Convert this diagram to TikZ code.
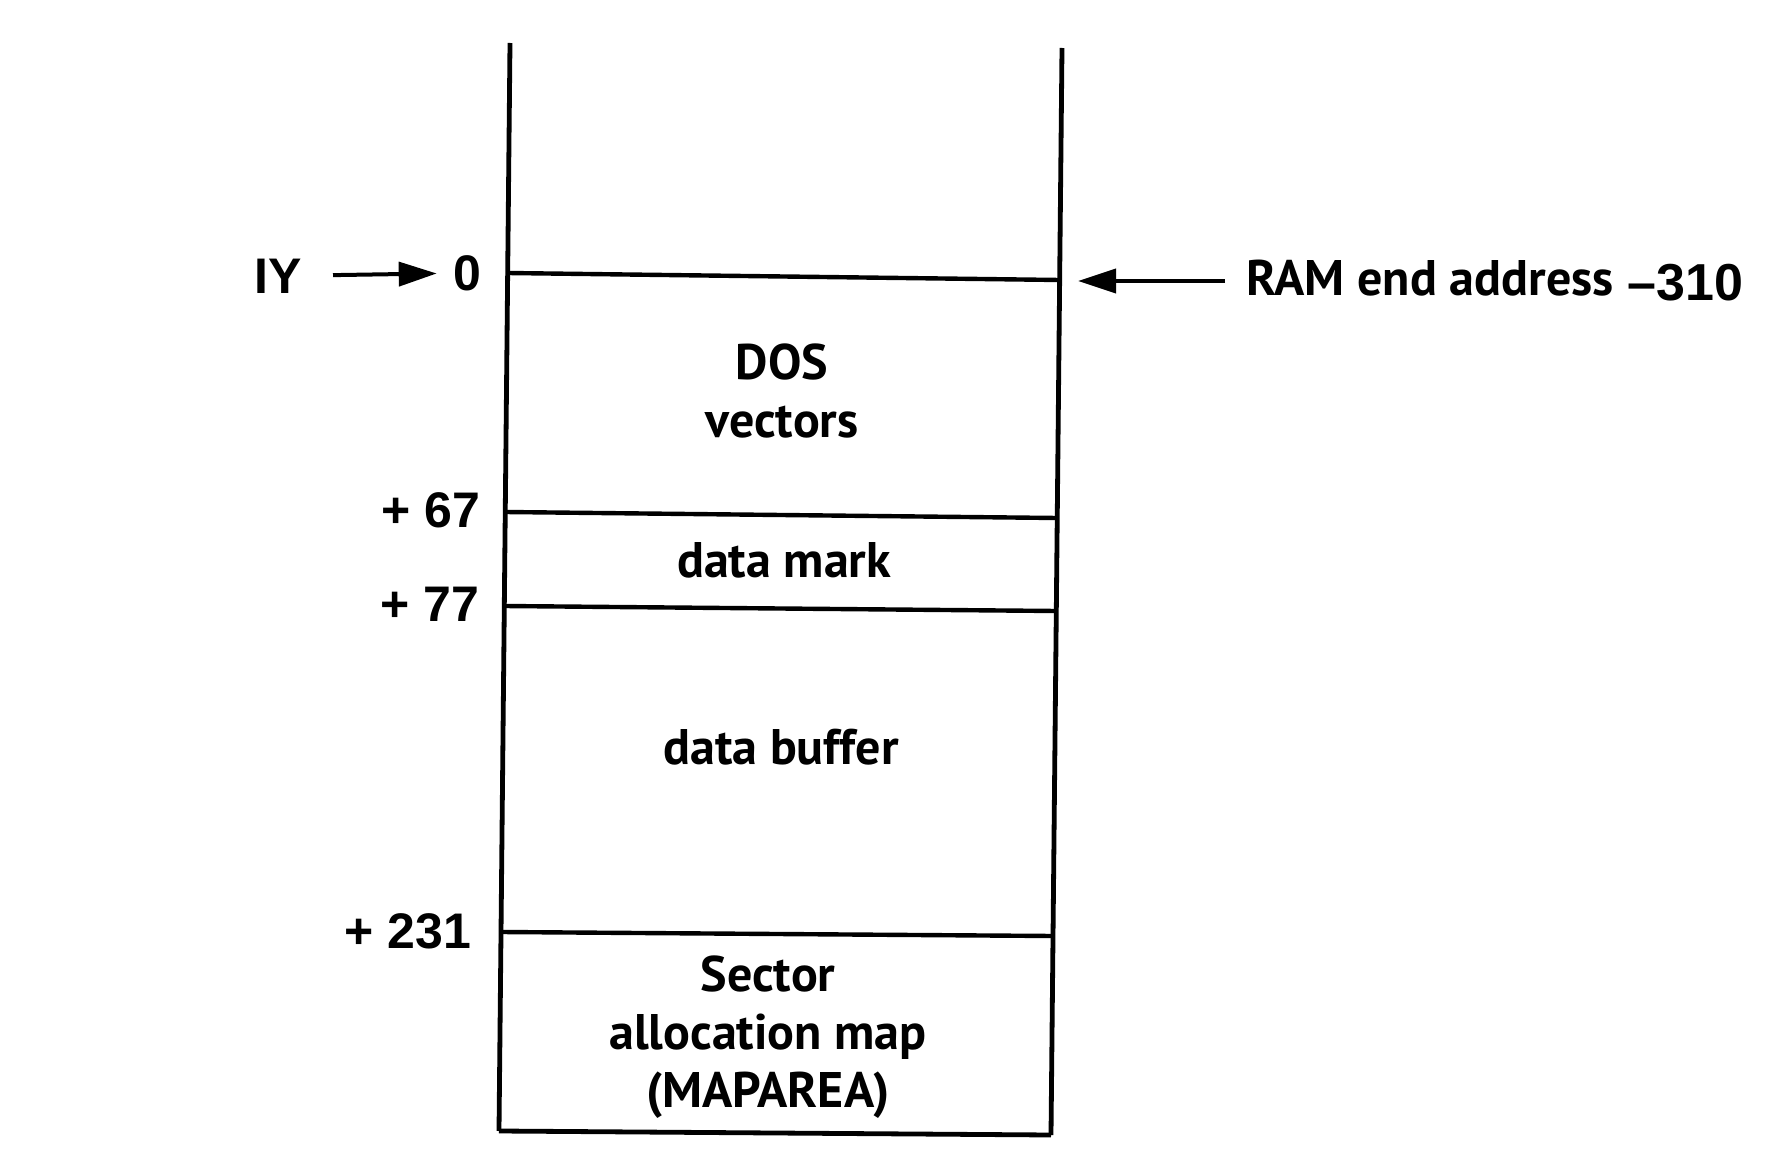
\documentclass[tikz,border=0pt]{standalone}
\usepackage{fontspec}
\setmainfont{PT Sans}
\newfontfamily\helv{Liberation Sans}
\usetikzlibrary{arrows.meta}
\begin{document}
\begin{tikzpicture}[x=0.5pt,y=-0.5pt,
  wall/.style={line width=2.4pt},
  sepline/.style={line width=2.2pt},
  boxlabel/.style={font=\fontsize{25}{29}\selectfont\bfseries, align=center, inner sep=0pt},
  offlabel/.style={font=\helv\fontsize{25}{29}\selectfont\bfseries, inner sep=0pt},
  arr/.style={line width=2pt, -{Triangle[length=19pt,width=12pt]}}]
\useasboundingbox (0,0) rectangle (1779,1166);
% walls
\coordinate (lt) at (510,43);
\coordinate (lb) at (499,1131);
\coordinate (rt) at (1062,48);
\coordinate (rb) at (1051,1135);
\draw[wall] (lt) -- (lb);
\draw[wall] (rt) -- (rb);
% separators
\coordinate (l0) at (507.7,273);  \coordinate (r0) at (1059.7,280);
\coordinate (l67) at (505.2,512); \coordinate (r67) at (1057.2,518);
\coordinate (l77) at (504.3,606); \coordinate (r77) at (1056.3,611);
\coordinate (l231) at (501,932);  \coordinate (r231) at (1053,936);
\draw[sepline] (l0) -- (r0);
\draw[sepline] (l67) -- (r67);
\draw[sepline] (l77) -- (r77);
\draw[sepline] (l231) -- (r231);
\draw[wall] (lb) -- (rb);
% box labels
\node[boxlabel] (dos) at (782,391) {DOS\\vectors};
\node[boxlabel] (dm) at (784,560) {data mark};
\node[boxlabel] (db) at (781,747) {data buffer};
\node[boxlabel] (sam) at (768,1037) {Sector\\allocation map\\(MAPAREA)};
% offsets
\node[offlabel] (iy) at (278,276) {IY};
\node[offlabel] (zero) at (467,273) {0};
\node[offlabel] (p67) at (431,510) {+ 67};
\node[offlabel] (p77) at (430,604) {+ 77};
\node[offlabel] (p231) at (408,931) {+ 231};
\draw[arr, shorten <=15.5pt, shorten >=8pt] (iy) -- (zero);
% RAM end address
\node[boxlabel, anchor=west] (ram) at (1246,281) {RAM end address\hspace{7pt}\raisebox{-2.5pt}{\helv\fontsize{26}{30}\selectfont\bfseries –310}};
\coordinate (ramtip) at (1078,281);
\draw[arr, shorten <=10.5pt] (ram.west) -- (ramtip);
\end{tikzpicture}
\end{document}
